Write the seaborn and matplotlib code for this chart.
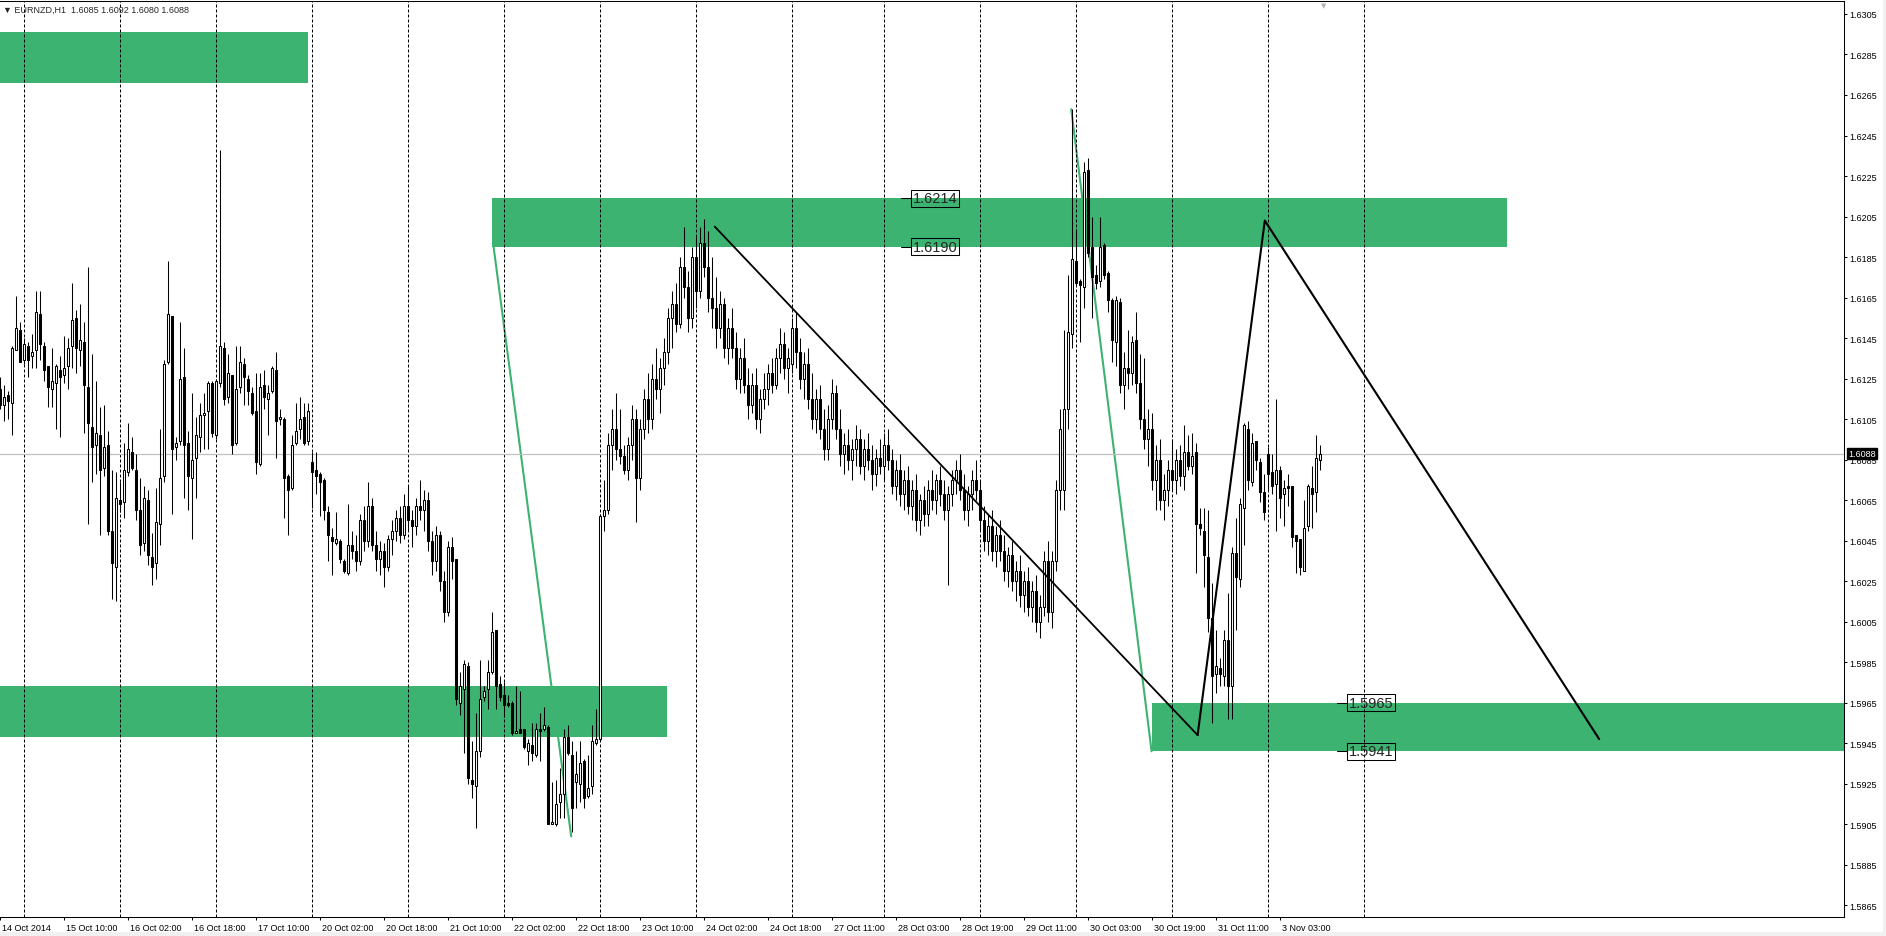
import numpy as np
import pandas as pd
import matplotlib
matplotlib.use("Agg")
import matplotlib.pyplot as plt
from matplotlib.patches import Rectangle
import matplotlib.transforms as mtransforms
import seaborn as sns

# ---------------- data: hourly EURNZD candles (open, high, low, close) ----------------
day_1014 = [(1.6120,1.6126,1.6110,1.6112),(1.6112,1.6122,1.6104,1.6116),(1.6117,1.6119,1.6105,1.6114),
            (1.6113,1.6141,1.6097,1.6140),(1.6139,1.6166,1.6139,1.6150),(1.6149,1.6153,1.6133,1.6133)]
day_1015 = [(1.6134,1.6145,1.6132,1.6142),(1.6141,1.6143,1.6126,1.6134),(1.6136,1.6147,1.6130,1.6138),
            (1.6139,1.6168,1.6130,1.6158),(1.6157,1.6168,1.6134,1.6142),(1.6141,1.6143,1.6124,1.6129),
            (1.6131,1.6131,1.6111,1.6121),(1.6120,1.6140,1.6111,1.6124),(1.6123,1.6132,1.6100,1.6131),
            (1.6129,1.6136,1.6096,1.6126),(1.6127,1.6146,1.6123,1.6130),(1.6131,1.6145,1.6120,1.6140),
            (1.6141,1.6172,1.6130,1.6154),(1.6155,1.6159,1.6128,1.6140),(1.6139,1.6162,1.6131,1.6144),
            (1.6143,1.6153,1.6098,1.6122),(1.6121,1.6180,1.6053,1.6103),(1.6101,1.6137,1.6074,1.6091),
            (1.6092,1.6124,1.6078,1.6098),(1.6097,1.6111,1.6048,1.6080),(1.6081,1.6112,1.6077,1.6091),
            (1.6092,1.6099,1.6048,1.6050),(1.6050,1.6080,1.6016,1.6034),(1.6032,1.6079,1.6015,1.6066)]
day_1016 = [(1.6065,1.6074,1.6059,1.6063),(1.6064,1.6093,1.6056,1.6080),(1.6079,1.6103,1.6077,1.6090),
            (1.6089,1.6096,1.6080,1.6081),(1.6080,1.6088,1.6055,1.6060),(1.6060,1.6076,1.6038,1.6043),
            (1.6044,1.6072,1.6040,1.6066),(1.6065,1.6070,1.6033,1.6038),(1.6037,1.6049,1.6023,1.6032),
            (1.6034,1.6071,1.6026,1.6054),(1.6053,1.6100,1.6043,1.6076),(1.6077,1.6134,1.6074,1.6132),
            (1.6133,1.6183,1.6132,1.6157),(1.6156,1.6156,1.6058,1.6090),(1.6091,1.6096,1.6085,1.6093),
            (1.6094,1.6153,1.6092,1.6125),(1.6126,1.6140,1.6066,1.6092),(1.6093,1.6099,1.6060,1.6077),
            (1.6076,1.6118,1.6046,1.6085),(1.6086,1.6106,1.6066,1.6097),(1.6096,1.6113,1.6089,1.6107),
            (1.6107,1.6118,1.6090,1.6108),(1.6109,1.6124,1.6090,1.6123),(1.6123,1.6124,1.6096,1.6098)]
day_1017 = [(1.6097,1.6125,1.6095,1.6124),(1.6123,1.6238,1.6121,1.6141),(1.6140,1.6143,1.6112,1.6115),
            (1.6116,1.6137,1.6113,1.6128),(1.6127,1.6127,1.6088,1.6092),(1.6093,1.6141,1.6092,1.6120),
            (1.6121,1.6141,1.6118,1.6133),(1.6132,1.6135,1.6112,1.6126),(1.6125,1.6127,1.6112,1.6119),
            (1.6118,1.6121,1.6107,1.6108),(1.6109,1.6128,1.6078,1.6084),(1.6083,1.6128,1.6082,1.6121),
            (1.6122,1.6129,1.6110,1.6116),(1.6115,1.6122,1.6097,1.6118),(1.6119,1.6131,1.6118,1.6130),
            (1.6129,1.6138,1.6086,1.6104),(1.6105,1.6110,1.6102,1.6106),(1.6105,1.6106,1.6056,1.6076),
            (1.6077,1.6078,1.6048,1.6070),(1.6071,1.6097,1.6070,1.6092),(1.6093,1.6113,1.6092,1.6099),
            (1.6100,1.6116,1.6095,1.6105),(1.6106,1.6113,1.6092,1.6093),(1.6094,1.6113,1.6092,1.6109)]
day_1020 = [(1.6084,1.6089,1.6061,1.6079),(1.6080,1.6089,1.6068,1.6077),(1.6078,1.6079,1.6057,1.6074),
            (1.6075,1.6076,1.6055,1.6060),(1.6059,1.6062,1.6035,1.6048),(1.6047,1.6051,1.6028,1.6045),
            (1.6044,1.6059,1.6043,1.6046),(1.6045,1.6046,1.6034,1.6036),(1.6035,1.6036,1.6029,1.6030),
            (1.6029,1.6063,1.6028,1.6043),(1.6043,1.6050,1.6036,1.6040),(1.6040,1.6048,1.6030,1.6035),
            (1.6035,1.6058,1.6033,1.6055),(1.6055,1.6062,1.6040,1.6045),(1.6045,1.6074,1.6042,1.6062),
            (1.6062,1.6066,1.6040,1.6043),(1.6043,1.6050,1.6030,1.6036),(1.6036,1.6045,1.6028,1.6040),
            (1.6040,1.6044,1.6022,1.6032),(1.6032,1.6048,1.6030,1.6046),(1.6046,1.6055,1.6038,1.6050),
            (1.6050,1.6060,1.6045,1.6056),(1.6056,1.6062,1.6044,1.6048),(1.6048,1.6068,1.6046,1.6062)]
day_1021 = [(1.6062,1.6072,1.6050,1.6055),(1.6055,1.6060,1.6042,1.6052),(1.6052,1.6066,1.6048,1.6062),
            (1.6062,1.6075,1.6055,1.6060),(1.6060,1.6070,1.6050,1.6065),(1.6065,1.6069,1.6040,1.6045),
            (1.6045,1.6050,1.6028,1.6035),(1.6035,1.6052,1.6030,1.6048),(1.6048,1.6050,1.6020,1.6025),
            (1.6025,1.6030,1.6005,1.6010),(1.6010,1.6045,1.6008,1.6042),(1.6042,1.6047,1.6026,1.6035),
            (1.6036,1.6036,1.5964,1.5967),(1.5965,1.5980,1.5959,1.5973),(1.5972,1.5986,1.5940,1.5984),
            (1.5983,1.5985,1.5925,1.5928),(1.5927,1.5946,1.5918,1.5925),(1.5924,1.5960,1.5903,1.5941),
            (1.5941,1.5986,1.5938,1.5967),(1.5968,1.5973,1.5966,1.5971),(1.5972,1.5986,1.5962,1.5980),
            (1.5980,1.6010,1.5979,1.6000),(1.6001,1.6001,1.5962,1.5973),(1.5974,1.5978,1.5966,1.5968)]
day_1022 = [(1.5969,1.5975,1.5958,1.5964),(1.5965,1.5969,1.5963,1.5964),(1.5965,1.5966,1.5949,1.5950),
            (1.5950,1.5973,1.5950,1.5951),(1.5952,1.5971,1.5950,1.5950),(1.5952,1.5952,1.5942,1.5943),
            (1.5941,1.5947,1.5934,1.5945),(1.5944,1.5955,1.5936,1.5940),(1.5939,1.5955,1.5938,1.5952),
            (1.5952,1.5960,1.5936,1.5951),(1.5952,1.5963,1.5951,1.5954),(1.5953,1.5954,1.5905,1.5905),
            (1.5905,1.5926,1.5905,1.5906),(1.5905,1.5927,1.5904,1.5915),(1.5916,1.5933,1.5908,1.5920),
            (1.5920,1.5952,1.5908,1.5948),(1.5948,1.5954,1.5939,1.5940),(1.5939,1.5946,1.5901,1.5913),
            (1.5926,1.5941,1.5913,1.5930),(1.5925,1.5946,1.5916,1.5935),(1.5936,1.5937,1.5913,1.5918),
            (1.5919,1.5939,1.5918,1.5923),(1.5924,1.5954,1.5920,1.5946),(1.5945,1.5962,1.5944,1.5947)]
day_1023 = [(1.5947,1.6058,1.5946,1.6057),(1.6057,1.6075,1.6050,1.6060),(1.6060,1.6098,1.6058,1.6092),
            (1.6092,1.6110,1.6080,1.6100),(1.6100,1.6118,1.6085,1.6090),(1.6090,1.6110,1.6083,1.6087),
            (1.6087,1.6092,1.6078,1.6080),(1.6080,1.6096,1.6075,1.6092),(1.6092,1.6112,1.6085,1.6105),
            (1.6105,1.6110,1.6054,1.6076),(1.6076,1.6105,1.6070,1.6100),(1.6100,1.6120,1.6095,1.6115),
            (1.6115,1.6128,1.6098,1.6105),(1.6105,1.6132,1.6100,1.6125),(1.6125,1.6140,1.6115,1.6120),
            (1.6120,1.6135,1.6108,1.6130),(1.6130,1.6145,1.6122,1.6138),(1.6138,1.6160,1.6132,1.6155),
            (1.6155,1.6168,1.6140,1.6162),(1.6162,1.6172,1.6148,1.6152),(1.6152,1.6185,1.6150,1.6180),
            (1.6180,1.6200,1.6165,1.6170),(1.6170,1.6178,1.6148,1.6155),(1.6155,1.6190,1.6150,1.6185)]
day_1024 = [(1.6185,1.6195,1.6160,1.6168),(1.6168,1.6200,1.6165,1.6192),(1.6192,1.6204,1.6175,1.6180),
            (1.6180,1.6198,1.6158,1.6165),(1.6165,1.6185,1.6150,1.6160),(1.6160,1.6175,1.6140,1.6150),
            (1.6150,1.6168,1.6145,1.6162),(1.6162,1.6165,1.6135,1.6140),(1.6140,1.6155,1.6132,1.6150),
            (1.6150,1.6160,1.6135,1.6140),(1.6140,1.6148,1.6120,1.6125),(1.6125,1.6140,1.6118,1.6135),
            (1.6135,1.6145,1.6118,1.6122),(1.6122,1.6130,1.6105,1.6112),(1.6112,1.6128,1.6108,1.6122),
            (1.6122,1.6130,1.6100,1.6105),(1.6105,1.6120,1.6098,1.6115),(1.6115,1.6128,1.6110,1.6120),
            (1.6120,1.6132,1.6112,1.6128),(1.6128,1.6135,1.6118,1.6122),(1.6122,1.6140,1.6120,1.6135),
            (1.6135,1.6150,1.6128,1.6142),(1.6142,1.6148,1.6125,1.6130),(1.6130,1.6140,1.6118,1.6135)]
day_1027 = [(1.6132,1.6155,1.6128,1.6150),(1.6150,1.6158,1.6130,1.6138),(1.6138,1.6145,1.6120,1.6125),
            (1.6125,1.6138,1.6115,1.6132),(1.6132,1.6140,1.6110,1.6115),(1.6115,1.6128,1.6100,1.6105),
            (1.6105,1.6120,1.6098,1.6115),(1.6115,1.6122,1.6095,1.6100),(1.6100,1.6110,1.6085,1.6090),
            (1.6090,1.6112,1.6085,1.6105),(1.6105,1.6125,1.6100,1.6118),(1.6118,1.6122,1.6095,1.6100),
            (1.6100,1.6110,1.6082,1.6088),(1.6088,1.6098,1.6078,1.6092),(1.6092,1.6100,1.6080,1.6085),
            (1.6085,1.6095,1.6075,1.6090),(1.6090,1.6102,1.6082,1.6095),(1.6095,1.6100,1.6078,1.6082),
            (1.6082,1.6095,1.6075,1.6090),(1.6090,1.6098,1.6080,1.6085),(1.6085,1.6092,1.6070,1.6078),
            (1.6078,1.6090,1.6072,1.6086),(1.6086,1.6095,1.6078,1.6082)]
day_1028 = [(1.6082,1.6098,1.6075,1.6092),(1.6092,1.6100,1.6080,1.6085),(1.6085,1.6090,1.6068,1.6072),
            (1.6072,1.6085,1.6065,1.6080),(1.6080,1.6088,1.6062,1.6068),(1.6068,1.6080,1.6060,1.6075),
            (1.6075,1.6082,1.6058,1.6062),(1.6062,1.6075,1.6055,1.6070),(1.6070,1.6078,1.6050,1.6055),
            (1.6055,1.6068,1.6048,1.6065),(1.6065,1.6072,1.6052,1.6058),(1.6058,1.6075,1.6052,1.6070),
            (1.6070,1.6080,1.6060,1.6065),(1.6065,1.6078,1.6058,1.6075),(1.6075,1.6082,1.6062,1.6068),
            (1.6068,1.6075,1.6055,1.6060),(1.6060,1.6072,1.6023,1.6068),(1.6068,1.6080,1.6062,1.6075),
            (1.6075,1.6085,1.6068,1.6080),(1.6080,1.6088,1.6065,1.6070),(1.6070,1.6078,1.6055,1.6060),
            (1.6060,1.6072,1.6052,1.6068),(1.6068,1.6080,1.6060,1.6075),(1.6075,1.6085,1.6065,1.6070)]
day_1029 = [(1.6070,1.6075,1.6050,1.6055),(1.6055,1.6062,1.6040,1.6045),(1.6045,1.6058,1.6038,1.6052),
            (1.6052,1.6060,1.6035,1.6040),(1.6040,1.6052,1.6032,1.6048),(1.6048,1.6055,1.6035,1.6040),
            (1.6040,1.6048,1.6025,1.6030),(1.6030,1.6042,1.6022,1.6038),(1.6038,1.6045,1.6020,1.6025),
            (1.6025,1.6035,1.6015,1.6030),(1.6030,1.6038,1.6012,1.6018),(1.6018,1.6030,1.6010,1.6025),
            (1.6025,1.6032,1.6008,1.6012),(1.6012,1.6025,1.6005,1.6020),(1.6020,1.6028,1.6000,1.6005),
            (1.6005,1.6018,1.5997,1.6012),(1.6012,1.6040,1.6008,1.6035),(1.6035,1.6045,1.6005,1.6010),
            (1.6010,1.6040,1.6002,1.6035),(1.6035,1.6075,1.6030,1.6070),(1.6070,1.6110,1.6060,1.6100),
            (1.6070,1.6149,1.6060,1.6110),(1.6110,1.6176,1.6100,1.6148),(1.6147,1.6258,1.6140,1.6184)]
day_1030 = [(1.6183,1.6199,1.6171,1.6172),(1.6173,1.6174,1.6143,1.6171),(1.6170,1.6232,1.6160,1.6227),
            (1.6228,1.6234,1.6185,1.6187),(1.6190,1.6205,1.6155,1.6175),(1.6176,1.6181,1.6169,1.6172),
            (1.6173,1.6205,1.6170,1.6190),(1.6191,1.6192,1.6174,1.6176),(1.6177,1.6178,1.6158,1.6164),
            (1.6164,1.6165,1.6133,1.6144),(1.6143,1.6166,1.6131,1.6164),(1.6163,1.6165,1.6118,1.6122),
            (1.6122,1.6138,1.6110,1.6130),(1.6130,1.6149,1.6120,1.6128),(1.6128,1.6146,1.6122,1.6143),
            (1.6144,1.6158,1.6118,1.6123),(1.6123,1.6137,1.6100,1.6105),(1.6105,1.6135,1.6090,1.6095),
            (1.6095,1.6110,1.6082,1.6100),(1.6100,1.6108,1.6070,1.6075),(1.6075,1.6092,1.6060,1.6085),
            (1.6085,1.6095,1.6060,1.6065),(1.6065,1.6078,1.6055,1.6070),(1.6070,1.6085,1.6062,1.6080)]
day_1031 = [(1.6080,1.6095,1.6070,1.6075),(1.6075,1.6090,1.6068,1.6085),(1.6085,1.6092,1.6072,1.6077),
            (1.6077,1.6102,1.6070,1.6089),(1.6089,1.6097,1.6080,1.6082),(1.6082,1.6098,1.6078,1.6087),
            (1.6089,1.6093,1.6029,1.6053),(1.6053,1.6061,1.6048,1.6051),(1.6050,1.6061,1.6022,1.6038),
            (1.6037,1.6060,1.6000,1.6007),(1.6007,1.6024,1.5955,1.5978),(1.5979,1.6001,1.5970,1.5983),
            (1.5982,1.5987,1.5973,1.5979),(1.5978,1.6001,1.5973,1.5996),(1.5996,1.6019,1.5957,1.5973),
            (1.5973,1.6042,1.5957,1.6039),(1.6039,1.6056,1.6001,1.6027),(1.6026,1.6066,1.6022,1.6063),
            (1.6061,1.6103,1.6043,1.6102),(1.6100,1.6104,1.6070,1.6075),(1.6074,1.6098,1.6072,1.6093),
            (1.6094,1.6094,1.6080,1.6085),(1.6084,1.6086,1.6064,1.6069),(1.6069,1.6078,1.6055,1.6059)]
day_1103 = [(1.6088,1.6091,1.6070,1.6078),(1.6079,1.6088,1.6068,1.6072),(1.6073,1.6115,1.6050,1.6080),
            (1.6080,1.6082,1.6056,1.6066),(1.6068,1.6075,1.6052,1.6071),(1.6072,1.6078,1.6062,1.6071),
            (1.6072,1.6072,1.6042,1.6047),(1.6048,1.6048,1.6029,1.6045),(1.6046,1.6046,1.6028,1.6032),
            (1.6030,1.6065,1.6030,1.6051),(1.6052,1.6073,1.6050,1.6072),(1.6071,1.6082,1.6051,1.6068),
            (1.6069,1.6097,1.6059,1.6086),(1.6085,1.6092,1.6080,1.6088)]

time_labels = ["14 Oct 2014", "15 Oct 10:00", "16 Oct 02:00", "16 Oct 18:00", "17 Oct 10:00",
               "20 Oct 02:00", "20 Oct 18:00", "21 Oct 10:00", "22 Oct 02:00", "22 Oct 18:00",
               "23 Oct 10:00", "24 Oct 02:00", "24 Oct 18:00", "27 Oct 11:00", "28 Oct 03:00",
               "28 Oct 19:00", "29 Oct 11:00", "30 Oct 03:00", "30 Oct 19:00", "31 Oct 11:00",
               "3 Nov 03:00"]
label_step = 16

# analysis objects (anchor in bar index / price)
zone_start = [-5.0, 123.0, -5.0, 287.9]
zone_end = [76.9, 376.7, 166.8, 480.0]
zone_low = [1.6271, 1.6190, 1.5948, 1.5941]
zone_high = [1.6296, 1.6214, 1.5973, 1.5965]
trend_x = [178.7, 299.4]
trend_y = [1.6200, 1.5949]
zigzag_x = [299.4, 316.2, 399.8]
zigzag_y = [1.5949, 1.6203, 1.5947]
green1_x = [123.4, 142.8]
green1_y = [1.6190, 1.5899]
green2_x = [267.8, 287.9]
green2_y = [1.6258, 1.5941]
level_prices = [1.6214, 1.6190, 1.5965, 1.5941]
level_bars = [227.8, 227.8, 336.8, 336.8]
bid = 1.6088
title = "\u25BC EURNZD,H1  1.6085 1.6092 1.6080 1.6088"

# ---------------- build frame ----------------
days = [day_1014, day_1015, day_1016, day_1017, day_1020, day_1021, day_1022, day_1023,
        day_1024, day_1027, day_1028, day_1029, day_1030, day_1031, day_1103]
df = pd.DataFrame([r for d in days for r in d], columns=["open", "high", "low", "close"])
df["bar"] = np.arange(len(df))
day_starts = np.cumsum([0] + [len(d) for d in days])[1:-1]
grid_bars = list(day_starts) + [day_starts[-1] + 24]

# ---------------- figure ----------------
sns.set_style("white")
plt.rcParams['font.family'] = ['Liberation Sans', 'DejaVu Sans']
W, H = 1886, 937
fig = plt.figure(figsize=(W / 100, H / 100), dpi=100)
fig.patch.set_facecolor("white")
ax = fig.add_axes([0, 1 - 918 / H, 1844 / W, 916 / H])
ax.set_facecolor("white")
GREEN = "#3CB371"

# zones
for x0, x1, lo, hi in zip(zone_start, zone_end, zone_low, zone_high):
    ax.add_patch(Rectangle((x0, lo), x1 - x0, hi - lo, facecolor=GREEN, edgecolor="none", zorder=1))

# green lines (behind zones)
for gx, gy in [(green1_x, green1_y), (green2_x, green2_y)]:
    sns.lineplot(x=gx, y=gy, ax=ax, color=GREEN, linewidth=1.5, zorder=0.8,
                 sort=False, estimator=None)

# bid line
ax.axhline(bid, color="#c0c0c0", linewidth=0.9, zorder=2)

# candles
o, h, l, c = df.open.values, df.high.values, df.low.values, df.close.values
x = df.bar.values
up = c >= o
ax.vlines(x, l, h, colors="black", linewidth=0.75, zorder=4)
ax.bar(x[up], np.maximum(c[up] - o[up], 1e-7), bottom=o[up], width=0.55, color="white",
       edgecolor="black", linewidth=0.75, zorder=5)
ax.bar(x[~up], np.maximum(o[~up] - c[~up], 1e-7), bottom=c[~up], width=0.55, color="black",
       edgecolor="black", linewidth=0.75, zorder=5)

# black trend lines
sns.lineplot(x=trend_x, y=trend_y, ax=ax, color="black", linewidth=1.3, zorder=6,
             sort=False, estimator=None)
sns.lineplot(x=zigzag_x, y=zigzag_y, ax=ax, color="black", linewidth=1.5, zorder=6,
             sort=False, estimator=None)

# price level labels
for p, b in zip(level_prices, level_bars):
    ax.plot([b - 2.5, b], [p, p], color="black", linewidth=0.75, zorder=7)
    ax.text(b + 0.4, p, f"{p:.4f}", fontsize=10.5, ha="left", va="center", zorder=7,
            bbox=dict(boxstyle="square,pad=0.1", fc="none", ec="black", lw=0.75))

# axes limits
ax.set_xlim(0, 461)
ax.set_ylim(1.58592, 1.63114)

# y axis on right
yt = np.round(np.arange(1.5865, 1.6306, 0.002), 4)
ax.yaxis.tick_right()
ax.set_yticks(yt)
ax.set_yticklabels([f"{v:.4f}" for v in yt])
ax.tick_params(axis="y", which="major", right=True, left=False, direction="out",
               length=2.2, width=0.75, pad=1.5, labelsize=6.5, colors="black")

# x axis
label_bars = np.arange(len(time_labels)) * label_step
ax.set_xticks(label_bars)
ax.set_xticklabels(time_labels)
ax.set_xticks(grid_bars, minor=True)
ax.tick_params(axis="x", which="major", bottom=True, direction="out", length=2.5,
               width=0.75, pad=2.0, labelsize=6.5, colors="black")
ax.tick_params(axis="x", which="minor", bottom=False, length=0)
off = mtransforms.ScaledTranslation(2 / 100, 0, fig.dpi_scale_trans)
for t in ax.get_xticklabels():
    t.set_horizontalalignment("left")
    t.set_transform(t.get_transform() + off)

ax.set_axisbelow("line")
ax.grid(False, which="major")
ax.grid(True, which="minor", axis="x", color="black", linestyle=(0, (3, 2)), linewidth=0.72)

for side in ["top", "right", "bottom"]:
    ax.spines[side].set_visible(True)
    ax.spines[side].set_color("black")
    ax.spines[side].set_linewidth(0.75)
ax.spines["left"].set_visible(False)

# title
ax.annotate(title, xy=(0, 1), xycoords="axes fraction", xytext=(2.5, -6),
            textcoords="offset points", ha="left", va="center", fontsize=6.5, zorder=9)

# bid price tag
blend = mtransforms.blended_transform_factory(ax.transAxes, ax.transData)
tag_off = mtransforms.ScaledTranslation(4 / 100, 0, fig.dpi_scale_trans)
ax.text(1.0, bid, f"{bid:.4f}", transform=blend + tag_off, ha="left", va="center",
        fontsize=6.5, color="white", zorder=10, clip_on=False,
        bbox=dict(boxstyle="square,pad=0.15", fc="black", ec="black"))

# chart shift marker
ax.annotate("\u25BC", xy=(len(df), 1), xycoords=("data", "axes fraction"), xytext=(0, -3),
            textcoords="offset points", ha="center", va="center", fontsize=5,
            color="#b4b4b4", family="DejaVu Sans", annotation_clip=False)

# window bands
fig.patches.append(Rectangle((0, 0), 1, 4 / H, transform=fig.transFigure,
                             facecolor="#f0f0f0", edgecolor="none"))
fig.patches.append(Rectangle((1883 / W, 0), 3 / W, 1, transform=fig.transFigure,
                             facecolor="#f0f0f0", edgecolor="none"))

fig.savefig("out.png", dpi=100)
